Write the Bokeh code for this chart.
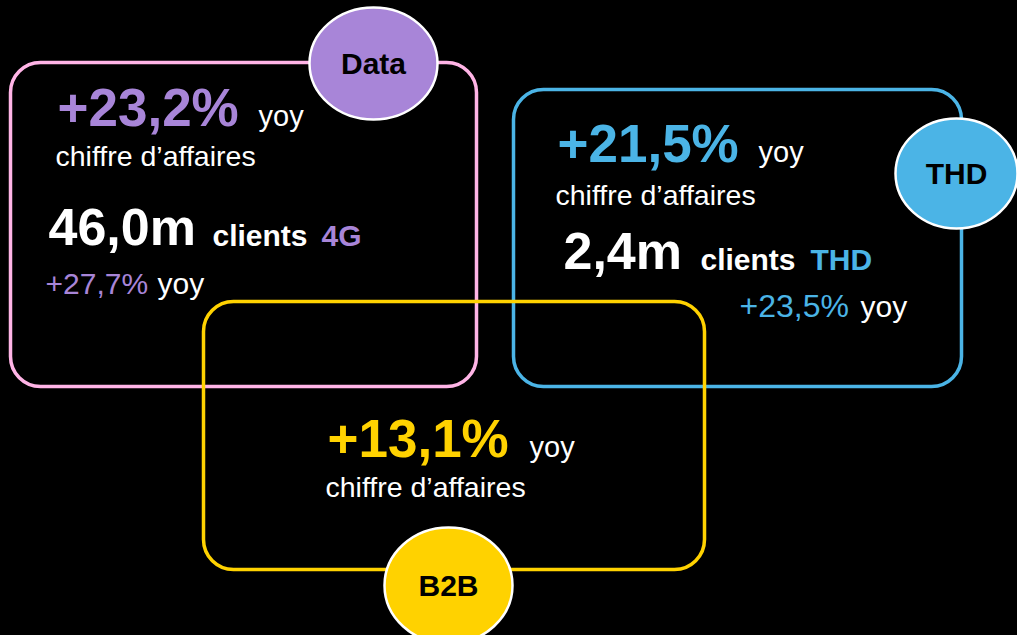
from bokeh.plotting import figure
from bokeh.models import Range1d
from bokeh.core.properties import value
from bokeh.embed import file_html
from bokeh.resources import INLINE

# ---------------- data ----------------
segments = ["Data", "THD", "B2B"]
segment_colors = ["#A885D8", "#4BB4E6", "#FFD200"]
box_colors = ["#FFB4E6", "#4BB4E6", "#FFD200"]
revenue_growth = ["+23,2%", "+21,5%", "+13,1%"]
revenue_label = "chiffre d\u2019affaires"
yoy_label = "yoy"
customers = ["46,0m", "2,4m"]
customer_types = ["4G", "THD"]
customer_growth = ["+27,7%", "+23,5%"]
clients_label = "clients"

# ---------------- layout (pixel coordinates of the page) ----------------
box_left = [10, 513, 203]
box_right = [476, 961, 704]
box_top = [62, 89, 301]
box_bottom = [386, 386, 569]
bubble_x = [373, 956, 448]
bubble_y = [63, 173, 585]
bubble_w = [128, 122, 128]
bubble_h = [112, 110, 116]

pct_x = [57, 557, 327]
pct_y = [127, 163, 458]
yoy_x = [258, 758, 529]
ca_x = [55, 555, 325]
ca_y = [166, 205, 497]

cust_x = [48, 563]
cust_y = [247, 271]
clients_x = [212, 700]
ctype_x = [321, 810]
cg_x = [45, 739]
cg_y = [295, 318]
cg_size = [30, 32]
cg_yoy_x = [157, 860]

FONT = value("Liberation Sans")
W, H = 1017, 635
K = 0.385  # baseline correction (fraction of font size)


def base(ys, size):
    if isinstance(size, list):
        return [y - K * s for y, s in zip(ys, size)]
    return [y - K * size for y in ys]


p = figure(width=W, height=H, output_backend="svg", toolbar_location=None,
           x_range=Range1d(0, W), y_range=Range1d(H, 0), min_border=0)
p.background_fill_color = "black"
p.border_fill_color = "black"
p.outline_line_color = None
p.axis.visible = False
p.grid.visible = False

# boxes
p.quad(left=box_left, right=box_right, top=box_top, bottom=box_bottom,
       fill_color=None, line_color=box_colors, line_width=3.5, border_radius=30)

# bubbles
p.ellipse(x=bubble_x, y=bubble_y, width=bubble_w, height=bubble_h,
          fill_color=segment_colors, line_color="white", line_width=2.5)
p.text(x=bubble_x, y=bubble_y, text=segments, text_align="center", text_baseline="middle",
       text_font=FONT, text_font_style="bold", text_font_size="30px", text_color="black")

# revenue growth
p.text(x=pct_x, y=base(pct_y, 53), text=revenue_growth, text_font=FONT, text_font_style="bold",
       text_font_size="53px", text_color=segment_colors, text_baseline="alphabetic")
p.text(x=yoy_x, y=base(pct_y, 29), text=[yoy_label] * 3, text_font=FONT, text_font_size="29px",
       text_color="white", text_baseline="alphabetic")
p.text(x=ca_x, y=base(ca_y, 28.5), text=[revenue_label] * 3, text_font=FONT, text_font_size="28.5px",
       text_color="white", text_baseline="alphabetic")

# customers
p.text(x=cust_x, y=base(cust_y, 52), text=customers, text_font=FONT, text_font_style="bold",
       text_font_size="52px", text_color="white", text_baseline="alphabetic")
p.text(x=clients_x, y=base(cust_y, 30), text=[clients_label] * 2, text_font=FONT, text_font_style="bold",
       text_font_size="30px", text_color="white", text_baseline="alphabetic")
p.text(x=ctype_x, y=base(cust_y, 30), text=customer_types, text_font=FONT, text_font_style="bold",
       text_font_size="30px", text_color=segment_colors[:2], text_baseline="alphabetic")
p.text(x=cg_x, y=base(cg_y, cg_size), text=customer_growth, text_font=FONT,
       text_font_size=[f"{s}px" for s in cg_size],
       text_color=segment_colors[:2], text_baseline="alphabetic")
p.text(x=cg_yoy_x, y=base(cg_y, 30), text=[yoy_label] * 2, text_font=FONT, text_font_size="30px",
       text_color="white", text_baseline="alphabetic")

html = file_html(p, INLINE)
html = html.replace("</head>", "<style>html,body{margin:0;padding:0;background-color:#000000;overflow:hidden;}</style></head>", 1)
open("out.html", "w").write(html)
